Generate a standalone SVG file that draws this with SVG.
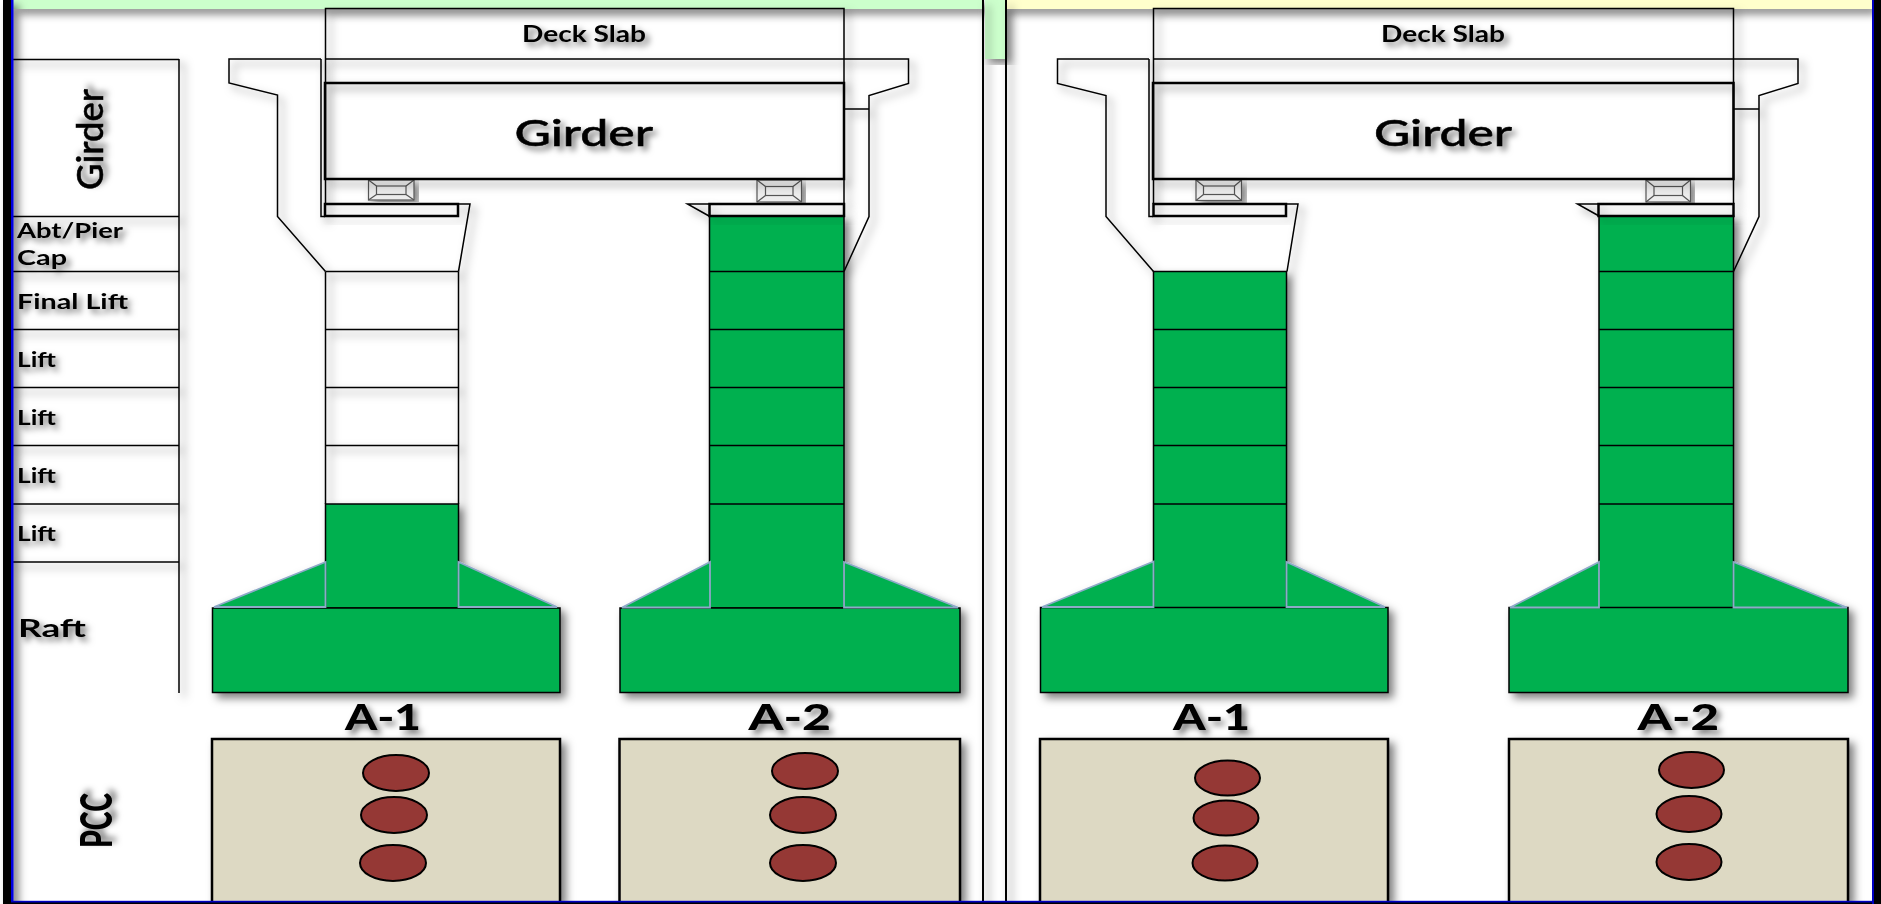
<svg xmlns="http://www.w3.org/2000/svg" width="1881" height="904" viewBox="0 0 1881 904">
<style>
.o{fill:none;stroke:#000;stroke-width:1.5}
.b{fill:none;stroke:#000;stroke-width:2.5}
.g{fill:#00B050;stroke:#000;stroke-width:1.5}
.h{fill:#00B050;stroke:#8EA9C8;stroke-width:1.8}
.p{fill:#DDD9C3;stroke:#000;stroke-width:2.5}
.e{fill:#953735;stroke:#000;stroke-width:2}
.br{fill:#EDEDED;stroke:#555;stroke-width:1.2}
.s{filter:url(#sh)}
.cap{fill:none;stroke:#000;stroke-width:2.5;filter:url(#sl)}
text{font-family:Lato,"Open Sans","Liberation Sans",sans-serif;fill:#000;filter:url(#ts)}
.t1{font-size:22px;font-weight:700}
.t2{font-size:37px;font-weight:500;stroke:#000;stroke-width:.5}
.t3{font-size:20px;font-weight:700}
.t4{font-size:36px;font-weight:900}
</style>
<defs>
<filter id="sh" x="-10%" y="-10%" width="120%" height="120%"><feDropShadow dx="5" dy="5" stdDeviation="4" flood-color="#000" flood-opacity=".5"/></filter>
<filter id="sl" x="-10%" y="-50%" width="120%" height="220%"><feDropShadow dx="5" dy="5" stdDeviation="4" flood-color="#000" flood-opacity=".2"/></filter>
<filter id="ts" x="-20%" y="-30%" width="140%" height="180%"><feDropShadow dx="4" dy="4" stdDeviation="3" flood-color="#000" flood-opacity=".55"/></filter>
</defs>
<rect width="1881" height="904" fill="#fff"/>
<g id="bars" class="s">
<rect x="13" y="0" width="970" height="9" fill="#CCFFCC"/>
<rect x="985" y="0" width="21" height="59" fill="#CCFFCC"/>
<rect x="1006" y="0" width="866" height="9" fill="#FFFFCC"/>
</g>
<g id="level-table" class="s">
<path class="o" d="M13 59.500H179M13 216.500H179M13 271.500H179M13 329.500H179M13 387.500H179M13 445.500H179M13 504H179M13 562H179M179 59V693"/>
</g>
<g id="left-a1" >
<g class="s"><path class="g" d="M325.500 504H458.500V608H325.500Z"/><path class="o" d="M325.500 271.500H458.500M325.500 329.500H458.500M325.500 387.500H458.500M325.500 445.500H458.500M325.500 271.500V504M458.500 271.500V504"/>
<rect class="g" x="212.500" y="608" width="347.500" height="84.500"/>
<path class="h" d="M214 607L325.500 562V607ZM458.500 562L557 607H458.500Z"/>
<path class="o" d="M321 59H229V83L277.500 95V216.500L325.500 271.500M321 59V216.500H325M458 204H470L458.500 271.500"/>
</g>
<rect class="cap" x="325" y="204" width="133" height="12"/>
<g id="left-a1-bearing" class="s"><rect class="br" x="368.500" y="180" width="45.500" height="20"/><rect class="br" x="376.500" y="186" width="29.500" height="8.500"/><path class="br" d="M368.500 180L376.500 186M414 180L406 186M368.500 200L376.500 194.500M414 200L406 194.500"/></g>
</g>
<g id="left-a2">
<g class="s"><path class="g" d="M709.500 216H844V608H709.500Z"/><path class="o" d="M709.500 271.500H844M709.500 329.500H844M709.500 387.500H844M709.500 445.500H844M709.500 504H844"/>
<rect class="g" x="620" y="608" width="340" height="84.500"/>
<path class="h" d="M622 607.500L710 562V607.500ZM844 562L958 607.500H844Z"/>
<path class="o" d="M844 59H908.500V83.500L869 95.500V216.500L844 271.500M845 109H869M709 216L687.500 204H709"/>
</g>
<rect class="cap" x="709.500" y="204" width="134.500" height="12"/>
<g id="left-a2-bearing" class="s"><rect class="br" x="757" y="180" width="44.500" height="22"/><rect class="br" x="765.500" y="186.500" width="27.500" height="9"/><path class="br" d="M757 180L765.500 186.500M801.500 180L793 186.500M757 202L765.500 195.500M801.500 202L793 195.500"/></g>
</g>
<g id="left-deck" class="s">
<path class="o" d="M325 59H844M325.500 204V8.500H844V204"/>
<rect class="b" x="325" y="83" width="519" height="96"/>
</g>
<g id="left-pcc" class="s">
<path class="p" d="M212 902V739H560V902"/>
<ellipse class="e" cx="396" cy="773" rx="33" ry="18"/><ellipse class="e" cx="394" cy="815" rx="33" ry="18"/><ellipse class="e" cx="393" cy="863" rx="33" ry="18"/>
<path class="p" d="M619.500 902V739H960V902"/>
<ellipse class="e" cx="805" cy="771" rx="33" ry="18"/><ellipse class="e" cx="803" cy="815" rx="33" ry="18"/><ellipse class="e" cx="803" cy="863" rx="33" ry="18"/>
</g>
<g id="right-a1">
<g class="s"><path class="g" d="M1153.500 271.500H1286.500V608H1153.500Z"/><path class="o" d="M1153.500 329.500H1286.500M1153.500 387.500H1286.500M1153.500 445.500H1286.500M1153.500 504H1286.500"/>
<rect class="g" x="1040.500" y="607.500" width="347.500" height="85"/>
<path class="h" d="M1042 607L1153.500 561.500V607ZM1286.500 562L1385 607H1286.500Z"/>
<path class="o" d="M1149 59H1057.500V83.500L1106 95.500V216.500L1153.500 271.500M1149 59V216.500H1153M1287 204H1298L1287 271.500"/>
</g>
<rect class="cap" x="1153.500" y="204" width="132.500" height="12"/>
<g id="right-a1-bearing" class="s"><rect class="br" x="1196" y="180" width="45.500" height="20.500"/><rect class="br" x="1203.500" y="186" width="31" height="8.500"/><path class="br" d="M1196 180L1203.500 186M1241.500 180L1234.500 186M1196 200.500L1203.500 194.500M1241.500 200.500L1234.500 194.500"/></g>
</g>
<g id="right-a2">
<g class="s"><path class="g" d="M1599 216H1733.500V608H1599Z"/><path class="o" d="M1599 271.500H1733.500M1599 329.500H1733.500M1599 387.500H1733.500M1599 445.500H1733.500M1599 504H1733.500"/>
<rect class="g" x="1509" y="607.500" width="339" height="85"/>
<path class="h" d="M1510 607.500L1599 562V607.500ZM1733.500 562L1847 607.500H1733.500Z"/>
<path class="o" d="M1733.500 59H1798V83.500L1759 95.500V216.500L1733.500 271.500M1734 109H1759M1599 216L1577.500 204H1599"/>
</g>
<rect class="cap" x="1598.500" y="204" width="135" height="12"/>
<g id="right-a2-bearing" class="s"><rect class="br" x="1646" y="180" width="44.500" height="22"/><rect class="br" x="1654" y="186.500" width="28.500" height="9"/><path class="br" d="M1646 180L1654 186.500M1690.500 180L1682.500 186.500M1646 202L1654 195.500M1690.500 202L1682.500 195.500"/></g>
</g>
<g id="right-deck" class="s">
<path class="o" d="M1153.500 59H1733.500M1153.500 204V8.500H1733.500V204"/>
<rect class="b" x="1153" y="83" width="580.500" height="96"/>
</g>
<g id="right-pcc" class="s">
<path class="p" d="M1040 902V739H1388V902"/>
<ellipse class="e" cx="1227.500" cy="778" rx="32.500" ry="17.500"/><ellipse class="e" cx="1226" cy="818" rx="32.500" ry="17.500"/><ellipse class="e" cx="1225" cy="863" rx="32.500" ry="17.500"/>
<path class="p" d="M1509 902V739H1848V902"/>
<ellipse class="e" cx="1691.500" cy="770" rx="32.500" ry="18"/><ellipse class="e" cx="1689" cy="814" rx="32.500" ry="18"/><ellipse class="e" cx="1689" cy="862" rx="32.500" ry="18"/>
</g>
<g id="labels">
<text class="t1" x="522" y="41.500" textLength="124" lengthAdjust="spacingAndGlyphs">Deck Slab</text>
<text class="t1" x="1381" y="41.500" textLength="124" lengthAdjust="spacingAndGlyphs">Deck Slab</text>
<text class="t2" x="514.500" y="146" textLength="138.500" lengthAdjust="spacingAndGlyphs">Girder</text>
<text class="t2" x="1374" y="146" textLength="138" lengthAdjust="spacingAndGlyphs">Girder</text>
<text class="t2" transform="translate(103 190) rotate(-90)" textLength="101" lengthAdjust="spacingAndGlyphs">Girder</text>
<text class="t3" x="17" y="238" textLength="106" lengthAdjust="spacingAndGlyphs">Abt/Pier</text>
<text class="t3" x="17" y="265" textLength="50" lengthAdjust="spacingAndGlyphs">Cap</text>
<text class="t3" x="17" y="309" textLength="111" lengthAdjust="spacingAndGlyphs">Final Lift</text>
<text class="t3" x="17" y="367" textLength="39" lengthAdjust="spacingAndGlyphs">Lift</text>
<text class="t3" x="17" y="425" textLength="39" lengthAdjust="spacingAndGlyphs">Lift</text>
<text class="t3" x="17" y="483" textLength="39" lengthAdjust="spacingAndGlyphs">Lift</text>
<text class="t3" x="17" y="541" textLength="39" lengthAdjust="spacingAndGlyphs">Lift</text>
<text class="t3" x="18" y="637" style="font-size:25px" textLength="68" lengthAdjust="spacingAndGlyphs">Raft</text>
<text class="t4" x="345" y="730" textLength="76" lengthAdjust="spacingAndGlyphs">A-1</text>
<text class="t4" x="748.500" y="730" textLength="82.500" lengthAdjust="spacingAndGlyphs">A-2</text>
<text class="t4" x="1173" y="730" textLength="77" lengthAdjust="spacingAndGlyphs">A-1</text>
<text class="t4" x="1637.500" y="730" textLength="81.500" lengthAdjust="spacingAndGlyphs">A-2</text>
<text class="t4" transform="translate(112 848) rotate(-90)" style="font-size:44px" textLength="55" lengthAdjust="spacingAndGlyphs">PCC</text>
</g>
<g id="frame">
<g class="s">
<rect x="3" y="0" width="8" height="904" fill="#000"/>
<rect x="11" y="0" width="2.500" height="904" fill="#0000E0"/>
<rect x="982" y="0" width="2" height="904" fill="#000"/>
<rect x="1005" y="0" width="2" height="904" fill="#000"/>
</g>
<rect x="3" y="901" width="1878" height="3" fill="#000"/>
<rect x="11" y="900.800" width="1863" height="1.700" fill="#0000C0"/>
<rect x="1873.500" y="0" width="7.500" height="904" fill="#000"/>
<rect x="1872" y="0" width="2" height="904" fill="#0000C0"/>
</g>
</svg>
